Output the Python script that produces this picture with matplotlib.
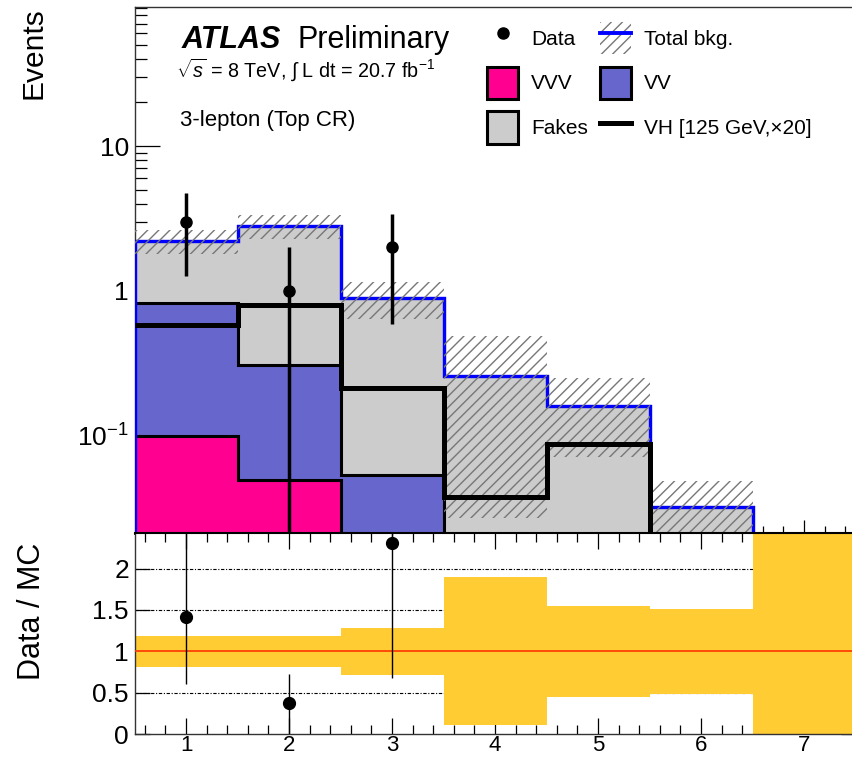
import matplotlib
matplotlib.use("Agg")
import matplotlib.pyplot as plt
import matplotlib.patches as mpatches
from matplotlib.lines import Line2D
from matplotlib.ticker import MultipleLocator, FixedLocator, FixedFormatter, FormatStrFormatter, NullFormatter, LogLocator
import numpy as np

plt.rcParams["font.family"] = ["Liberation Sans", "DejaVu Sans"]
plt.rcParams["mathtext.fontset"] = "custom"
plt.rcParams["mathtext.rm"] = "Liberation Sans"
plt.rcParams["mathtext.it"] = "Liberation Sans:italic"
plt.rcParams["mathtext.bf"] = "Liberation Sans:bold"
plt.rcParams["hatch.linewidth"] = 1.0

# binning
bin_edges = [0.5, 1.5, 2.5, 3.5, 4.5, 5.5, 6.5, 7.5]

# stacked backgrounds (events)
vvv = [0.10, 0.05, 0.001, 0.0005, 0.0003, 0.0002, 0.0]
vv = [0.73, 0.26, 0.053, 0.010, 0.005, 0.002, 0.0]
fakes = [1.38, 2.50, 0.84, 0.249, 0.156, 0.030, 0.0]

# signal VH x20
vh_x20 = [0.58, 0.80, 0.214, 0.038, 0.088, 0.0, 0.0]

# relative bkg uncertainty (ratio panel band half-width)
bkg_rel_unc = [0.19, 0.19, 0.285, 0.895, 0.553, 0.515, 9.0]

# data
data_x = [1, 2, 3]
data_y = [3, 1, 2]
data_err = [1.73, 1.0, 1.41]

# ratio data / MC
ratio_y = [1.42, 0.37, 2.31]
ratio_err_lo = [0.82, 0.37, 1.63]
ratio_err_hi = [1.2, 0.36, 1.9]

edges = np.array(bin_edges)
floor = 1e-3

fig = plt.figure(figsize=(8.52, 7.61), dpi=100)
W, H = 852.0, 761.0
x0, x1 = 134.5, 855.5
ax1 = fig.add_axes([x0 / W, 1 - 533 / H, (x1 - x0) / W, (533 - 7) / H])
ax2 = fig.add_axes([x0 / W, 1 - 734 / H, (x1 - x0) / W, (734 - 533) / H])

# ---- upper panel ----
ax1.set_yscale("log")
layers = [(vvv, "#ff0090"), (vv, "#6666cc"), (fakes, "#cccccc")]
cum = np.cumsum([np.array(l[0]) for l in layers], axis=0)
for k in reversed(range(len(layers))):
    ax1.stairs(np.maximum(cum[k], floor), edges, baseline=floor, fill=True,
               facecolor=layers[k][1], edgecolor="black", lw=2.2, zorder=2)

total = cum[-1]
unc = np.array(bkg_rel_unc)
ax1.stairs(np.maximum(total, floor), edges, baseline=floor, color="blue", lw=2.4, zorder=3)
ax1.stairs(np.maximum(total * (1 + unc), floor), edges,
           baseline=np.maximum(total * (1 - unc), floor), fill=True,
           facecolor="none", edgecolor="#777777", hatch="///", lw=0, zorder=4)
ax1.stairs(np.maximum(vh_x20, floor), edges, baseline=None, color="black", lw=3.6, zorder=5)
ax1.errorbar(data_x, data_y, yerr=data_err, fmt="o", color="black", ms=8,
             elinewidth=2.5, capsize=0, zorder=6)

ax1.set_xlim(0.5, 7.5)
ax1.set_ylim(0.0214, 91)
ax1.yaxis.set_major_locator(FixedLocator([0.1, 1, 10]))
ax1.yaxis.set_major_formatter(FixedFormatter(["$10^{-1}$", "1", "10"]))
ax1.yaxis.set_minor_locator(LogLocator(base=10, subs=np.arange(2, 10)))
ax1.yaxis.set_minor_formatter(NullFormatter())
ax1.xaxis.set_major_locator(MultipleLocator(1))
ax1.xaxis.set_minor_locator(MultipleLocator(0.2))
ax1.tick_params(axis="x", which="both", direction="in", labelbottom=False)
ax1.tick_params(axis="x", which="major", length=9.5, width=0.9)
ax1.tick_params(axis="x", which="minor", length=5, width=0.9)
ax1.tick_params(axis="y", which="both", direction="in", labelsize=19, pad=4)
ax1.tick_params(axis="y", which="major", length=18, width=0.9)
ax1.tick_params(axis="y", which="minor", length=8.6, width=0.9)
for s in ["left", "top", "right"]:
    ax1.spines[s].set_linewidth(1.0)
    ax1.spines[s].set_color("#333333")
ax1.spines["bottom"].set_linewidth(2.0)

# legend
h_data = Line2D([], [], marker="o", color="black", ls="none", ms=8)
h_vvv = mpatches.Patch(facecolor="#ff0090", edgecolor="black", lw=2.2)
h_fakes = mpatches.Patch(facecolor="#cccccc", edgecolor="black", lw=2.2)
h_hatch = mpatches.Patch(facecolor="none", edgecolor="#777777", hatch="///", lw=0)
h_blue = Line2D([], [], color="blue", lw=2.8)
h_vv = mpatches.Patch(facecolor="#6666cc", edgecolor="black", lw=2.2)
h_vh = Line2D([], [], color="black", lw=3.6)
ax1.legend([h_data, h_vvv, h_fakes, (h_hatch, h_blue), h_vv, h_vh],
           ["Data", "VVV", "Fakes", "Total bkg.", "VV", "VH [125 GeV,\u00d720]"],
           ncol=2, loc="upper left", bbox_to_anchor=(0.489, 0.9715),
           frameon=False, fontsize=15, handlelength=1.5, handleheight=2.0,
           handletextpad=0.6, columnspacing=0.6, labelspacing=0.6,
           borderpad=0, borderaxespad=0)

# texts
fig.text(182 / W, 1 - 48 / H, "ATLAS", fontsize=22, fontweight="bold", fontstyle="italic", va="baseline")
fig.text(298 / W, 1 - 48 / H, "Preliminary", fontsize=22, va="baseline")
fig.text(176 / W, 1 - 77 / H, r"$\sqrt{s}$ = 8 TeV, $\int$ L dt = 20.7 fb$^{-1}$", fontsize=14.2, va="baseline")
fig.text(180 / W, 1 - 126 / H, "3-lepton (Top CR)", fontsize=16, va="baseline")
fig.text(33 / W, 1 - 7 / H, "Events", fontsize=21.5, rotation=90, ha="center", va="top")
fig.text(32 / W, 1 - 543 / H, "Data / MC", fontsize=22, rotation=90, ha="center", va="top")

# ---- ratio panel ----
for g in [0.5, 1.5, 2.0]:
    ax2.axhline(g, color="black", lw=0.8, ls=(0, (3, 1.5, 1, 1.5)), zorder=1)
ax2.stairs(1 + unc, edges, baseline=1 - unc, fill=True, color="#ffcc33", lw=0, zorder=2)
ax2.axhline(1.0, color="#ff3300", lw=1.2, zorder=3)
ax2.errorbar(data_x, ratio_y, yerr=[ratio_err_lo, ratio_err_hi], fmt="o", color="black",
             ms=8.5, elinewidth=1.0, capsize=0, zorder=4)

ax2.set_xlim(0.5, 7.5)
ax2.set_ylim(0, 2.43)
ax2.yaxis.set_major_locator(FixedLocator([0, 0.5, 1, 1.5, 2]))
ax2.yaxis.set_major_formatter(FormatStrFormatter("%g"))
ax2.xaxis.set_major_locator(MultipleLocator(1))
ax2.xaxis.set_minor_locator(MultipleLocator(0.2))
ax2.tick_params(axis="both", which="both", direction="in", top=True, right=True)
ax2.tick_params(axis="y", labelsize=19)
ax2.tick_params(axis="x", labelsize=16)
ax2.tick_params(axis="x", which="major", length=11.5, width=0.9, pad=0.5)
ax2.tick_params(axis="x", which="minor", length=6.5, width=0.9)
ax2.tick_params(axis="y", which="major", length=11, width=0.9, pad=4)
for s in ["left", "bottom", "right"]:
    ax2.spines[s].set_linewidth(1.0)
    ax2.spines[s].set_color("#333333")
ax2.spines["top"].set_linewidth(1.5)

fig.savefig("out.png", dpi=100)
